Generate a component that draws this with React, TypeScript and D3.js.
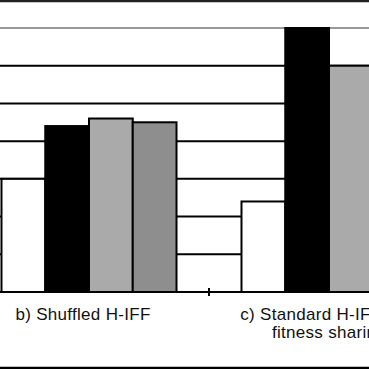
import { useEffect, useRef } from 'react';
import * as d3 from 'd3';

// visible part of a grouped bar chart (groups b and c)
const categories = ['b', 'c'];
const categoryLabels = [['b) Shuffled H-IFF'], ['c) Standard H-IFF with', 'fitness sharing']];
const seriesNames = ['Series 1', 'Series 2', 'Series 3', 'Series 4'];
const seriesColors = ['#ffffff', '#000000', '#aaaaaa', '#8e8e8e'];
const series1 = [30, 24];
const series2 = [44, 70];
const series3 = [46, 60];
const series4 = [45, 55];
const yTicks = [0, 10, 20, 30, 40, 50, 60, 70];

const W = 369;
const H = 369;

export default function App() {
  const svgRef = useRef<SVGSVGElement>(null);

  useEffect(() => {
    if (!svgRef.current) return;
    const svg = d3.select(svgRef.current);
    svg.selectAll('*').remove();

    const values = [series1, series2, series3, series4];
    const plotTop = 28;
    const plotBottom = 292;

    const x0 = d3.scaleBand<string>()
      .domain(categories)
      .range([-31, 449])
      .paddingInner(0.2708)
      .paddingOuter(0.1354);

    const x1 = d3.scaleBand<string>()
      .domain(seriesNames)
      .range([0, x0.bandwidth()]);

    const y = d3.scaleLinear()
      .domain([0, 70])
      .range([plotBottom, plotTop]);

    // gridlines
    svg.append('g')
      .selectAll('line')
      .data(yTicks.filter(t => t > 0))
      .join('line')
      .attr('x1', 0)
      .attr('x2', W)
      .attr('y1', d => y(d))
      .attr('y2', d => y(d))
      .style('stroke', d => (d === 70 ? '#999' : '#000'))
      .style('stroke-width', 2);

    // bars
    const groups = svg.append('g')
      .selectAll('g')
      .data(categories)
      .join('g')
      .attr('transform', d => `translate(${x0(d)},0)`);

    groups.selectAll('rect')
      .data((_, ci) => seriesNames.map((s, si) => ({ s, si, v: values[si][ci] })))
      .join('rect')
      .attr('x', d => x1(d.s)!)
      .attr('y', d => y(d.v))
      .attr('width', x1.bandwidth())
      .attr('height', d => y(0) - y(d.v))
      .style('fill', d => seriesColors[d.si])
      .style('stroke', '#000')
      .style('stroke-width', 2);

    // baseline + category ticks
    svg.append('line')
      .attr('x1', 0)
      .attr('x2', W)
      .attr('y1', y(0))
      .attr('y2', y(0))
      .style('stroke', '#000')
      .style('stroke-width', 2);

    const step = x0.step();
    const tickXs = categories.slice(1).map(c => x0(c)! - (step * x0.paddingInner()) / 2);
    svg.append('g')
      .selectAll('line')
      .data(tickXs)
      .join('line')
      .attr('x1', d => d)
      .attr('x2', d => d)
      .attr('y1', y(0) - 4)
      .attr('y2', y(0) + 4)
      .style('stroke', '#000')
      .style('stroke-width', 2);

    // category labels (first one sits a little left of its group in the original)
    const labelShift = [-6, 0];
    const labels = svg.append('g')
      .selectAll('text')
      .data(categories)
      .join('text')
      .attr('y', 320)
      .attr('text-anchor', 'middle')
      .style('font-family', '"Liberation Sans", Arial, sans-serif')
      .style('font-size', '17px')
      .style('letter-spacing', '0.3px')
      .style('fill', '#111');

    labels.selectAll('tspan')
      .data((c, i) => categoryLabels[i].map(line => ({ line, cx: x0(c)! + x0.bandwidth() / 2 + labelShift[i] })))
      .join('tspan')
      .attr('x', d => d.cx)
      .attr('dy', (_, i) => (i === 0 ? 0 : 18))
      .text(d => d.line);

    // chart area border
    svg.append('line')
      .attr('x1', 0).attr('x2', W).attr('y1', 1).attr('y2', 1)
      .style('stroke', '#222').style('stroke-width', 2.5);
    svg.append('line')
      .attr('x1', 0).attr('x2', W).attr('y1', H - 1).attr('y2', H - 1)
      .style('stroke', '#000').style('stroke-width', 2.5);
  }, []);

  return (
    <svg
      ref={svgRef}
      width={W}
      height={H}
      style={{ position: 'absolute', left: 0, top: 0, background: '#fff' }}
    />
  );
}
